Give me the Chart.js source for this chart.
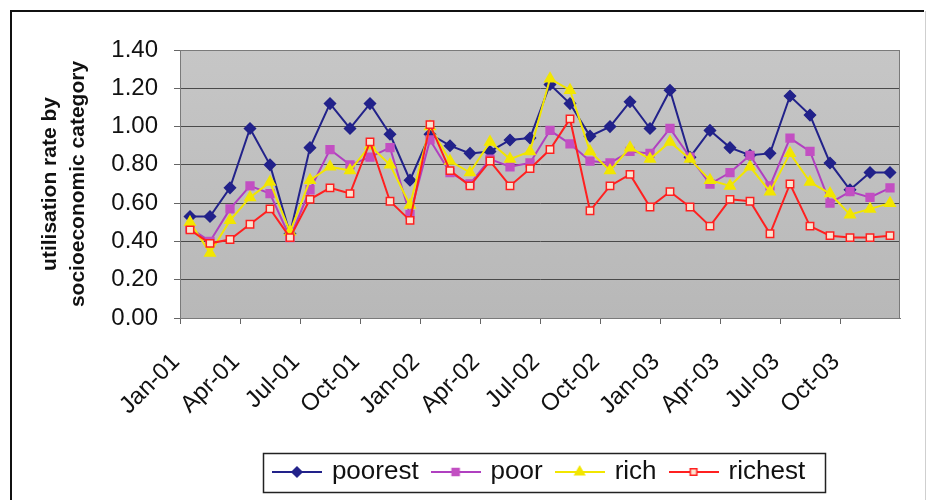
<!DOCTYPE html>
<html>
<head>
<meta charset="utf-8">
<script src="https://cdn.jsdelivr.net/npm/chart.js@4.4.1/dist/chart.umd.min.js"></script>
<style>
  html, body { margin: 0; padding: 0; background: #ffffff; }
  #wrap { width: 930px; height: 500px; position: relative; }
</style>
</head>
<body>
<div id="wrap"><canvas id="c"></canvas></div>
<script>
// ---- data ----
const categories = [
  'Jan-01','Feb-01','Mar-01','Apr-01','May-01','Jun-01','Jul-01','Aug-01','Sep-01','Oct-01','Nov-01','Dec-01',
  'Jan-02','Feb-02','Mar-02','Apr-02','May-02','Jun-02','Jul-02','Aug-02','Sep-02','Oct-02','Nov-02','Dec-02',
  'Jan-03','Feb-03','Mar-03','Apr-03','May-03','Jun-03','Jul-03','Aug-03','Sep-03','Oct-03','Nov-03','Dec-03'
];
const tickLabels = ['Jan-01','Apr-01','Jul-01','Oct-01','Jan-02','Apr-02','Jul-02','Oct-02','Jan-03','Apr-03','Jul-03','Oct-03'];
const yTicks = [0, 0.2, 0.4, 0.6, 0.8, 1.0, 1.2, 1.4];

const poorest = [0.53,0.53,0.68,0.99,0.80,0.44,0.89,1.12,0.99,1.12,0.96,0.72,
                 0.96,0.90,0.86,0.87,0.93,0.94,1.22,1.12,0.95,1.00,1.13,0.99,
                 1.19,0.84,0.98,0.89,0.85,0.86,1.16,1.06,0.81,0.67,0.76,0.76];
const poor    = [0.47,0.40,0.57,0.69,0.65,0.42,0.67,0.88,0.80,0.84,0.89,0.54,
                 0.93,0.76,0.70,0.83,0.79,0.81,0.98,0.91,0.82,0.81,0.87,0.86,
                 0.99,0.84,0.70,0.76,0.85,0.69,0.94,0.87,0.60,0.66,0.63,0.68];
const rich    = [0.50,0.34,0.51,0.63,0.71,0.45,0.72,0.79,0.77,0.90,0.80,0.59,
                 1.00,0.82,0.76,0.92,0.83,0.87,1.25,1.19,0.87,0.77,0.89,0.83,
                 0.92,0.83,0.72,0.69,0.79,0.66,0.86,0.71,0.65,0.54,0.57,0.60];
const richest = [0.46,0.39,0.41,0.49,0.57,0.42,0.62,0.68,0.65,0.92,0.61,0.51,
                 1.01,0.77,0.69,0.82,0.69,0.78,0.88,1.04,0.56,0.69,0.75,0.58,
                 0.66,0.58,0.48,0.62,0.61,0.44,0.70,0.48,0.43,0.42,0.42,0.43];
const seriesNames = ['poorest','poor','rich','richest'];
const yTitle = ['utilisation rate by', 'socioeconomic category'];

// ---- styles ----
const FONT = '"Liberation Sans", Arial, Helvetica, sans-serif';
const styles = [
  { line: '#22228a', fill: '#22228a', stroke: '#22228a', shape: 'rectRot', r: 5.5 },
  { line: '#b040c0', fill: '#c24fc2', stroke: '#c24fc2', shape: 'rect', r: 5.5 },
  { line: '#f2e600', fill: '#f2e600', stroke: '#f2e600', shape: 'triangle', r: 6 },
  { line: '#ff2020', fill: '#fbe3d0', stroke: '#ff2020', shape: 'rect', r: 5.2 }
];
const seriesData = [poorest, poor, rich, richest];

function legendImage(st) {
  const cv = document.createElement('canvas');
  cv.width = 50; cv.height = 16;
  const g = cv.getContext('2d');
  g.strokeStyle = st.line; g.lineWidth = 2;
  g.beginPath(); g.moveTo(0, 8); g.lineTo(50, 8); g.stroke();
  const opts = { pointStyle: st.shape, radius: st.r - 0.5, rotation: 0, borderWidth: 1.5 };
  g.fillStyle = st.fill; g.strokeStyle = st.stroke; g.lineWidth = 1.5;
  Chart.helpers.drawPoint(g, opts, 25, 8);
  return cv;
}
const legendImgs = styles.map(legendImage);

const datasets = seriesNames.map((name, i) => ({
  label: name,
  data: seriesData[i],
  borderColor: styles[i].line,
  backgroundColor: styles[i].fill,
  borderWidth: 2,
  pointStyle: styles[i].shape,
  pointRadius: styles[i].r,
  pointBackgroundColor: styles[i].fill,
  pointBorderColor: styles[i].stroke,
  pointBorderWidth: 1.5,
  tension: 0,
  order: 4 - i
}));

const decorPlugin = {
  id: 'decor',
  beforeDraw(chart) {
    const { ctx, chartArea: a } = chart;
    ctx.save();
    ctx.fillStyle = '#ffffff';
    ctx.fillRect(0, 0, chart.width, chart.height);
    const grd = ctx.createLinearGradient(0, a.top, 0, a.bottom);
    grd.addColorStop(0, '#c6c6c6');
    grd.addColorStop(1, '#b8b8b8');
    ctx.fillStyle = grd;
    ctx.fillRect(a.left, a.top, a.right - a.left, a.bottom - a.top);
    ctx.restore();
  },
  afterDraw(chart) {
    const { ctx, chartArea: a } = chart;
    ctx.save();
    ctx.strokeStyle = '#7a7a7a'; ctx.lineWidth = 1;
    ctx.strokeRect(a.left + 0.5, a.top + 0.5, a.right - a.left - 1, a.bottom - a.top);
    ctx.strokeStyle = '#111'; ctx.lineWidth = 2;
    ctx.beginPath();
    ctx.moveTo(11, chart.height); ctx.lineTo(11, 11); ctx.lineTo(924, 11);
    ctx.stroke();
    ctx.strokeStyle = '#cfcfcf'; ctx.lineWidth = 1;
    ctx.beginPath(); ctx.moveTo(925.5, 11); ctx.lineTo(925.5, chart.height); ctx.stroke();
    const hb = chart.legend && chart.legend.legendHitBoxes;
    if (hb && hb.length) {
      let l = Infinity, r = -Infinity, t = Infinity, b = -Infinity;
      hb.forEach(h => { l = Math.min(l, h.left); r = Math.max(r, h.left + h.width); t = Math.min(t, h.top); b = Math.max(b, h.top + h.height); });
      const cy = (t + b) / 2;
      ctx.strokeStyle = '#222'; ctx.lineWidth = 1.5;
      ctx.strokeRect(Math.round(l - 12) + 0.5, Math.round(cy - 19) + 0.5, Math.round(r - l + 32), 39);
    }
    ctx.restore();
  }
};

new Chart(document.getElementById('c'), {
  type: 'line',
  data: { labels: categories, datasets },
  plugins: [decorPlugin],
  options: {
    responsive: true,
    maintainAspectRatio: false,
    animation: false,
    layout: { padding: { left: 10, right: 30, top: 50, bottom: 5 } },
    plugins: {
      tooltip: { enabled: false },
      legend: {
        position: 'bottom',
        fullSize: false,
        reverse: true,
        labels: {
          usePointStyle: true,
          pointStyleWidth: 44,
          padding: 15,
          color: '#111',
          font: { family: FONT, size: 26 },
          generateLabels(chart) {
            const items = Chart.defaults.plugins.legend.labels.generateLabels(chart);
            items.forEach(it => { it.pointStyle = legendImgs[it.datasetIndex]; });
            return items;
          }
        }
      }
    },
    scales: {
      x: {
        type: 'category',
        offset: true,
        afterFit(scale) { scale.height = 126; scale.paddingLeft = 0; scale.paddingRight = 0; },
        grid: {
          offset: true,
          drawOnChartArea: false,
          drawTicks: true,
          tickLength: 6,
          color: (c) => (c.index % 3 === 0 ? '#666' : 'rgba(0,0,0,0)')
        },
        border: { display: true, color: '#7a7a7a' },
        ticks: {
          autoSkip: false,
          minRotation: 45,
          maxRotation: 45,
          padding: 24,
          labelOffset: -14,
          color: '#111',
          font: { family: FONT, size: 24 },
          callback(value, index) {
            const c = categories[index];
            return tickLabels.includes(c) ? c : '';
          }
        }
      },
      y: {
        min: 0,
        max: 1.4,
        afterFit(scale) { scale.width = 170; },
        afterBuildTicks(scale) { scale.ticks = yTicks.map(v => ({ value: v })); },
        grid: { color: '#4a4a4a', lineWidth: 1, tickLength: 6, tickColor: '#666' },
        border: { display: true, color: '#7a7a7a' },
        ticks: {
          padding: 16,
          color: '#111',
          font: { family: FONT, size: 24 },
          callback: (v) => Number(v).toFixed(2)
        },
        title: {
          display: true,
          text: yTitle,
          color: '#111',
          font: { family: FONT, size: 21, weight: 'bold', lineHeight: 1.3 },
          padding: { top: 27, bottom: 0 }
        }
      }
    }
  }
});
</script>
</body>
</html>
